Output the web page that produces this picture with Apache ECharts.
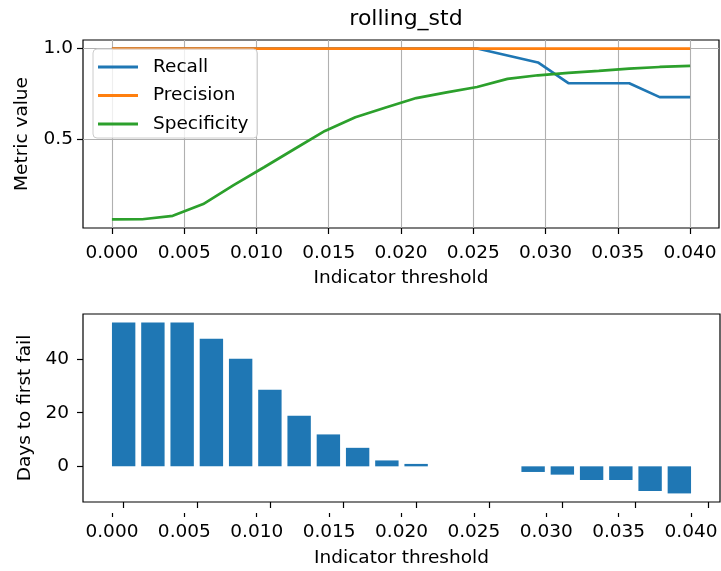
<!DOCTYPE html>
<html>
<head>
<meta charset="utf-8">
<script src="https://cdn.jsdelivr.net/npm/echarts@6/dist/echarts.min.js"></script>
<style>
html,body{margin:0;padding:0;background:#fff;}
#chart{width:721px;height:571px;}
</style>
</head>
<body>
<div id="chart"></div>
<script>
// ---- data ----
const thresholds = [0, 0.002105, 0.004211, 0.006316, 0.008421, 0.010526, 0.012632, 0.014737, 0.016842, 0.018947,
  0.021053, 0.023158, 0.025263, 0.027368, 0.029474, 0.031579, 0.033684, 0.035789, 0.037895, 0.04];
const recall = [1, 1, 1, 1, 1, 1, 1, 1, 1, 1, 1, 1, 1, 0.9615, 0.923, 0.808, 0.808, 0.808, 0.731, 0.731];
const precision = [1, 1, 1, 1, 1, 1, 1, 1, 1, 1, 1, 1, 1, 1, 1, 1, 1, 1, 1, 1];
const specificity = [0.054, 0.055, 0.074, 0.139, 0.244, 0.343, 0.444, 0.544, 0.620, 0.674,
  0.726, 0.757, 0.787, 0.832, 0.852, 0.865, 0.876, 0.889, 0.898, 0.904];
const barX = [0, 0.002, 0.004, 0.006, 0.008, 0.010, 0.012, 0.014, 0.016, 0.018,
  0.020, 0.022, 0.024, 0.026, 0.028, 0.030, 0.032, 0.034, 0.036, 0.038];
const daysToFail = [53.6, 53.6, 53.6, 47.6, 40.1, 28.6, 18.9, 11.9, 6.9, 2.2,
  0.9, 0, 0, 0, -2.1, -3.1, -5.1, -5.1, -9.2, -10.1];
const xTicks = [0, 0.005, 0.01, 0.015, 0.02, 0.025, 0.03, 0.035, 0.04];
const metricTicks = [0.5, 1.0];
const dayTicks = [0, 20, 40];
const BAR_W = 0.0016;

const FONT = 'DejaVu Sans';
const FS = 18.5;
const zip = (a, b) => a.map((v, i) => [v, b[i]]);

const chart = echarts.init(document.getElementById('chart'), null, {renderer: 'canvas'});
const grid = '#b0b0b0';

const option = {
  animation: false,
  textStyle: {fontFamily: FONT},
  title: {
    text: 'rolling_std', left: 401, top: 3, textAlign: 'center',
    textStyle: {fontFamily: FONT, fontSize: 22, fontWeight: 'normal', color: '#000'}
  },
  legend: {
    orient: 'vertical', left: 93, top: 49,
    data: ['Recall', 'Precision', 'Specificity'],
    icon: 'rect', itemWidth: 40, itemHeight: 3, itemGap: 6.5,
    padding: [7, 9, 3, 5],
    backgroundColor: 'rgba(255,255,255,0.8)',
    borderColor: '#cccccc', borderWidth: 1, borderRadius: 4,
    textStyle: {fontFamily: FONT, fontSize: FS, color: '#000', lineHeight: 22, padding: [0, 0, 0, 10]}
  },
  grid: [
    {left: 83, top: 40, width: 636, height: 188, show: true, borderColor: '#000', borderWidth: 1.2, backgroundColor: 'transparent'},
    {left: 83, top: 314, width: 637, height: 188, show: true, borderColor: '#000', borderWidth: 1.2, backgroundColor: 'transparent'}
  ],
  xAxis: [
    {
      gridIndex: 0, type: 'value', min: -0.002, max: 0.042, position: 'bottom',
      axisLine: {show: false, onZero: false},
      axisTick: {show: true, length: 6, customValues: xTicks, lineStyle: {color: '#000', width: 1.2}},
      axisLabel: {customValues: xTicks, formatter: v => v.toFixed(3), fontFamily: FONT, fontSize: FS, color: '#000', margin: 16},
      splitLine: {show: true, lineStyle: {color: grid, width: 1.1}},
      name: 'Indicator threshold', nameLocation: 'middle', nameGap: 41,
      nameTextStyle: {fontFamily: FONT, fontSize: FS, color: '#000'}
    },
    {
      gridIndex: 1, type: 'value', min: -0.00278, max: 0.04078, position: 'bottom',
      axisLine: {show: false, onZero: false},
      axisTick: {show: true, length: 6, customValues: xTicks, lineStyle: {color: '#000', width: 1.2}},
      axisLabel: {show: false},
      splitLine: {show: false}
    },
    {
      gridIndex: 1, type: 'value', min: -0.002, max: 0.042, position: 'bottom', offset: 11,
      axisLine: {show: false, onZero: false},
      axisTick: {show: true, length: 4, customValues: xTicks, lineStyle: {color: '#000', width: 1.2}},
      axisLabel: {customValues: xTicks, formatter: v => v.toFixed(3), fontFamily: FONT, fontSize: FS, color: '#000', margin: 10},
      splitLine: {show: false},
      name: 'Indicator threshold', nameLocation: 'middle', nameGap: 36,
      nameTextStyle: {fontFamily: FONT, fontSize: FS, color: '#000'}
    }
  ],
  yAxis: [
    {
      gridIndex: 0, type: 'value', min: 0.0067, max: 1.0473,
      axisLine: {show: false, onZero: false},
      axisTick: {show: true, length: 6, customValues: metricTicks, lineStyle: {color: '#000', width: 1.2}},
      axisLabel: {customValues: metricTicks, formatter: v => v.toFixed(1), fontFamily: FONT, fontSize: FS, color: '#000', margin: 10},
      splitLine: {show: true, lineStyle: {color: grid, width: 1.1}},
      name: 'Metric value', nameLocation: 'middle', nameGap: 51,
      nameTextStyle: {fontFamily: FONT, fontSize: FS, color: '#000'}
    },
    {
      gridIndex: 1, type: 'value', min: -13.3, max: 56.8,
      axisLine: {show: false, onZero: false},
      axisTick: {show: true, length: 6, customValues: dayTicks, lineStyle: {color: '#000', width: 1.2}},
      axisLabel: {customValues: dayTicks, fontFamily: FONT, fontSize: FS, color: '#000', margin: 14},
      splitLine: {show: false},
      name: 'Days to first fail', nameLocation: 'middle', nameGap: 46,
      nameTextStyle: {fontFamily: FONT, fontSize: FS, color: '#000'}
    }
  ],
  series: [
    {name: 'Recall', type: 'line', xAxisIndex: 0, yAxisIndex: 0, data: zip(thresholds, recall),
      symbol: 'none', color: '#1f77b4', lineStyle: {width: 2.7, color: '#1f77b4'}},
    {name: 'Precision', type: 'line', xAxisIndex: 0, yAxisIndex: 0, data: zip(thresholds, precision),
      symbol: 'none', color: '#ff7f0e', lineStyle: {width: 2.7, color: '#ff7f0e'}},
    {name: 'Specificity', type: 'line', xAxisIndex: 0, yAxisIndex: 0, data: zip(thresholds, specificity),
      symbol: 'none', color: '#2ca02c', lineStyle: {width: 2.7, color: '#2ca02c'}},
    {
      name: 'Days', type: 'custom', xAxisIndex: 1, yAxisIndex: 1, data: zip(barX, daysToFail),
      encode: {x: 0, y: 1},
      renderItem: function (params, api) {
        const x = api.value(0), y = api.value(1);
        const p0 = api.coord([x - BAR_W / 2, y]);
        const p1 = api.coord([x + BAR_W / 2, 0]);
        return {
          type: 'rect',
          shape: {x: p0[0], y: Math.min(p0[1], p1[1]), width: p1[0] - p0[0], height: Math.abs(p1[1] - p0[1])},
          style: {fill: '#1f77b4'}
        };
      }
    }
  ]
};
chart.setOption(option);
</script>
</body>
</html>
